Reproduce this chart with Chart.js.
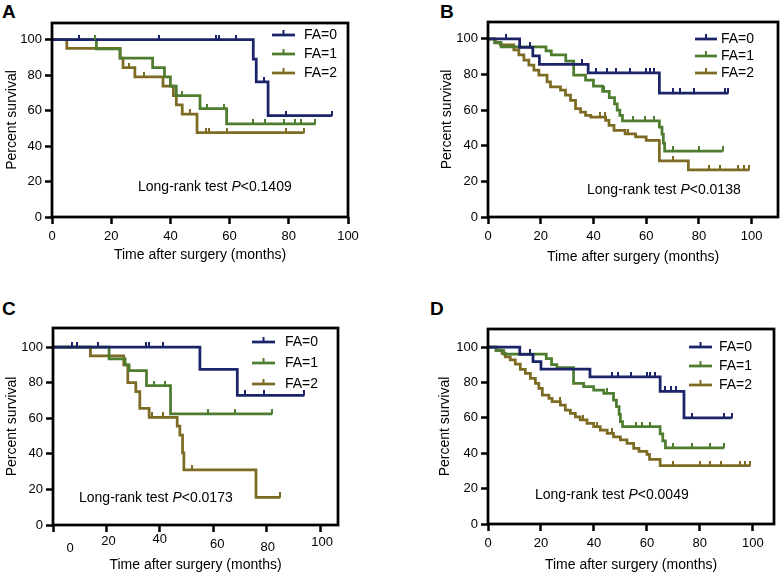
<!DOCTYPE html>
<html>
<head>
<meta charset="utf-8">
<script src="https://cdn.jsdelivr.net/npm/chart.js@4.4.1/dist/chart.umd.min.js"></script>
<style>
  body { margin: 0; background: #fff; width: 784px; height: 576px; position: relative; overflow: hidden;
         font-family: "Liberation Sans", Arial, Helvetica, sans-serif; }
  canvas { position: absolute; left: 0; top: 0; }
  .tag { position: absolute; font-weight: bold; font-size: 19px; line-height: 19px; color: #000; }
</style>
</head>
<body>
<div class="tag" style="left:2px;top:2px">A</div>
<div class="tag" style="left:440px;top:2px">B</div>
<div class="tag" style="left:2px;top:299px">C</div>
<div class="tag" style="left:430px;top:299px">D</div>
<canvas id="panelA" width="784" height="576"></canvas>
<canvas id="panelB" width="784" height="576"></canvas>
<canvas id="panelC" width="784" height="576"></canvas>
<canvas id="panelD" width="784" height="576"></canvas>
<script>
const FONT = '"Liberation Sans", Arial, Helvetica, sans-serif';
const xTicks = [0, 20, 40, 60, 80, 100];
const yTicks = [0, 20, 40, 60, 80, 100];
const groups = ["FA=0", "FA=1", "FA=2"];
const colors = ["#1b2468", "#4f7d2f", "#7d6b23"];
const pValues = ["0.1409", "0.0138", "0.0173", "0.0049"];

// Kaplan-Meier steps: [time (months), survival %]; censor marks are times only
const a0 = [[0,100],[68,88.9],[69,76.2],[73,57.1],[94.5,57.1]];
const a1 = [[0,100],[15,94.7],[23,89.5],[34,84.2],[38,78.9],[40,73.7],[42,68.4],[50,61],[59,52.5],[89,52.5]];
const a2 = [[0,100],[5,95],[23,89.5],[24,84.2],[28,78.9],[37.5,73.7],[41,68.4],[42,63.2],[44,57.9],[49,47.5],[85,47.5]];
const a0c = [9, 36, 55.5, 56.5, 62, 71.5, 79, 94.5];
const a1c = [14.5, 44, 52.5, 58, 68, 72, 78.5, 82, 84, 89];
const a2c = [26, 31, 46.5, 52, 53, 59, 79, 85];

const b0 = [[0,100],[12,95.2],[17,90.5],[19.5,85.7],[38,81],[65,69.5],[91,69.5]];
const b1 = [[0,100],[2.5,97.8],[5,95.6],[22,93.3],[24,91],[29.5,87.6],[32.5,79.6],[37,76.8],[40,73.5],[43.5,70.5],
            [46,67],[48,63.5],[49,60],[50,57],[51,54],[65,50.5],[66,46.5],[66.5,41.5],[67,37],[89,37]];
const b2 = [[0,100],[2.8,98.1],[4.7,96.6],[9.8,93.8],[11.7,91],[13.6,88.1],[15.5,85.3],[17.4,82.5],[19.3,79.7],
            [22.4,75.9],[23.7,73.1],[27.5,71.2],[29.4,68.4],[31.3,65.5],[33.2,60.8],[35.1,58.9],[37,57.1],[39,56.1],
            [44.6,54.2],[45.9,51.4],[47.8,48.6],[52,46.7],[56,45],[60,43],[65,31.5],[76,26.5],[99,26.5]];
const b0c = [7, 16, 35.5, 41, 45, 48.5, 54, 60, 61.5, 63, 70, 73, 78, 90, 91];
const b1c = [44, 55, 59.5, 63, 70, 80, 89];
const b2c = [42.5, 44.4, 53, 70, 84, 88, 95, 97, 99];

const c0 = [[0,100],[55,87.5],[69,72.9],[94,72.9]];
const c1 = [[0,100],[21,93.3],[27,90],[28.5,86.7],[35,78.3],[44,62.5],[82,62.5]];
const c2 = [[0,100],[14,95],[26.5,90],[28,80],[31,75],[32.5,65.5],[36,60.5],[46.5,55.5],[47.5,50.5],[48.5,40.5],
            [49,31],[76,15.5],[85,15.5]];
const c0c = [7, 9, 17, 35, 36, 41, 72, 79, 94];
const c1c = [38, 42, 58, 68, 82];
const c2c = [37, 41, 52, 85];

const d0 = [[0,100],[12,95.8],[17,91.7],[20,87.5],[38.5,83.2],[65,75],[74,60],[92,60]];
const d1 = [[0,100],[3,98],[6,96],[22,93.5],[24,90],[26,88.4],[32.3,79.5],[36.1,77.6],[39.9,75.7],[43.7,73.8],
            [47.4,70],[48.5,66.3],[49.5,62],[50,57.8],[50.8,55],[65,51],[66,47],[67,43],[89,43]];
const d2 = [[0,100],[3.4,98.3],[5.3,96.4],[6.5,94.5],[8.4,92.7],[10.3,90.4],[12.2,87.4],[14.1,85.1],[16,82.3],
            [17.9,79.5],[19.2,76.6],[20.5,72.9],[23,71],[24.2,69.1],[27.3,67.2],[29.2,64.4],[31.1,62.5],[33,60.6],
            [34.8,58.8],[37.4,56.9],[39.9,55],[42.4,53.1],[45,51.2],[47.4,49.3],[50,47.5],[52.5,45.6],[55,42.7],
            [57,41],[60,39.4],[61,36.5],[65,33],[99,33]];
const d0c = [16, 47, 49, 54, 60, 61, 63, 67, 69, 71, 77, 89, 92];
const d1c = [45, 56, 58, 61, 70, 77, 84, 89];
const d2c = [27, 36, 41, 47, 70, 80, 84, 88, 95, 97, 99];

function survAt(curve, t) {
  let s = curve[0][1];
  for (const [ti, si] of curve) if (ti <= t) s = si;
  return s;
}

// small upward tick used as the censor symbol (lower half left empty so it sits on the line)
function censorTick(color) {
  const c = document.createElement("canvas");
  c.width = 2;
  c.height = 10;
  const g = c.getContext("2d");
  g.fillStyle = color;
  g.fillRect(0, 0, 2, 5.5);
  return c;
}
const tickImages = colors.map(censorTick);

// draws the box, inner legend and the log-rank text
const panelDecor = {
  id: "panelDecor",
  afterDatasetsDraw(chart, args, o) {
    const { ctx, chartArea: ca } = chart;
    ctx.save();
    ctx.strokeStyle = "#000";
    ctx.lineWidth = 2.75;
    ctx.strokeRect(ca.left, ca.top, ca.right - ca.left, ca.bottom - ca.top);

    ctx.font = "14px " + FONT;
    ctx.textBaseline = "middle";
    groups.forEach((g, i) => {
      const y = o.legend.rows[i];
      ctx.strokeStyle = colors[i];
      ctx.lineWidth = 2.75;
      ctx.beginPath();
      ctx.moveTo(o.legend.x1, y);
      ctx.lineTo(o.legend.x2, y);
      ctx.stroke();
      const mid = (o.legend.x1 + o.legend.x2) / 2;
      ctx.lineWidth = 2;
      ctx.beginPath();
      ctx.moveTo(mid, y - 5);
      ctx.lineTo(mid, y);
      ctx.stroke();
      ctx.fillStyle = "#000";
      ctx.fillText(g, o.legend.tx, y);
    });

    let x = o.ptext.x;
    const parts = [["Long-rank test ", ""], ["P", "italic "], ["<" + o.ptext.p, ""]];
    ctx.fillStyle = "#000";
    for (const [txt, style] of parts) {
      ctx.font = style + "14px " + FONT;
      ctx.fillText(txt, x, o.ptext.y);
      x += ctx.measureText(txt).width;
    }

    // hand-placed x tick labels (panel C has them slightly scattered)
    if (o.labelShift) {
      const xs = chart.scales.x;
      ctx.font = "13px " + FONT;
      ctx.textAlign = "center";
      xTicks.forEach((v, i) => {
        const [dx, dy] = o.labelShift[i];
        ctx.fillText(String(v), xs.getPixelForValue(v) + dx, ca.bottom + 20 + dy);
      });
    }
    ctx.restore();
  }
};

function makePanel(id, curves, censors, box) {
  const datasets = [];
  curves.forEach((c, i) => {
    datasets.push({
      label: groups[i],
      data: c.map(([x, y]) => ({ x, y })),
      showLine: true,
      stepped: true,
      borderColor: colors[i],
      borderWidth: 2.75,
      pointRadius: 0,
      order: 1
    });
  });
  censors.forEach((c, i) => {
    datasets.push({
      label: groups[i] + " censored",
      data: c.map(t => ({ x: t, y: survAt(curves[i], t) })),
      showLine: false,
      pointStyle: tickImages[i],
      pointRadius: 5,
      order: 0
    });
  });

  const yTitleLeft = box.yTitleX - 8.4;
  const xScaleBottom = box.xTitleY + 8.4;
  const tickGrid = { drawOnChartArea: false, drawTicks: true, tickLength: 7, tickWidth: 2.5, tickColor: "#000" };

  new Chart(document.getElementById(id), {
    type: "scatter",
    data: { datasets },
    options: {
      responsive: false,
      animation: false,
      events: [],
      layout: {
        padding: { left: yTitleLeft, top: box.top, right: 784 - box.right, bottom: 576 - xScaleBottom }
      },
      plugins: {
        legend: { display: false },
        tooltip: { enabled: false },
        panelDecor: { legend: box.legend, ptext: box.ptext, labelShift: box.labelShift }
      },
      scales: {
        x: {
          type: "linear",
          min: 0,
          max: box.xMax,
          afterBuildTicks: s => { s.ticks = xTicks.map(v => ({ value: v })); },
          afterFit: s => { s.height = xScaleBottom - box.bottom; },
          grid: tickGrid,
          border: { display: false },
          ticks: { display: !box.labelShift, color: "#000", font: { size: 13, family: FONT }, padding: 5,
                   maxRotation: 0, autoSkip: false },
          title: { display: true, text: "Time after surgery (months)", color: "#000",
                   font: { size: 14, family: FONT }, padding: 0 }
        },
        y: {
          type: "linear",
          min: 0,
          max: box.yMax,
          afterBuildTicks: s => { s.ticks = yTicks.map(v => ({ value: v })); },
          afterFit: s => { s.width = box.left - yTitleLeft; },
          grid: tickGrid,
          border: { display: false },
          ticks: { color: "#000", font: { size: 13, family: FONT }, padding: 3 },
          title: { display: true, text: "Percent survival", color: "#000",
                   font: { size: 14, family: FONT }, padding: 0 }
        }
      }
    },
    plugins: [panelDecor]
  });
}

makePanel("panelA", [a0, a1, a2], [a0c, a1c, a2c], {
  left: 52, top: 23, right: 348, bottom: 217, xMax: 100, yMax: 109.3, yTitleX: 12, xTitleY: 255,
  legend: { x1: 272, x2: 295, tx: 304, rows: [35, 54, 73] },
  ptext: { x: 138, y: 187, p: pValues[0] }
});
makePanel("panelB", [b0, b1, b2], [b0c, b1c, b2c], {
  left: 488, top: 22, right: 779, bottom: 217, xMax: 110, yMax: 109.5, yTitleX: 447, xTitleY: 257,
  legend: { x1: 695, x2: 717, tx: 721, rows: [39, 56, 73] },
  ptext: { x: 587, y: 190, p: pValues[1] }
});
makePanel("panelC", [c0, c1, c2], [c0c, c1c, c2c], {
  left: 53, top: 328, right: 338, bottom: 525, xMax: 106.7, yMax: 110.7, yTitleX: 12, xTitleY: 565,
  legend: { x1: 252, x2: 275, tx: 285, rows: [342, 363, 384] },
  ptext: { x: 79, y: 498, p: pValues[2] },
  labelShift: [[17, 3], [2, -4], [0, -6], [4, -1], [1, 2], [2, -3]]
});
makePanel("panelD", [d0, d1, d2], [d0c, d1c, d2c], {
  left: 488, top: 329, right: 774, bottom: 524, xMax: 108, yMax: 110.2, yTitleX: 445, xTitleY: 565,
  legend: { x1: 689, x2: 712, tx: 719, rows: [347, 366, 385] },
  ptext: { x: 535, y: 495, p: pValues[3] }
});
</script>
</body>
</html>
